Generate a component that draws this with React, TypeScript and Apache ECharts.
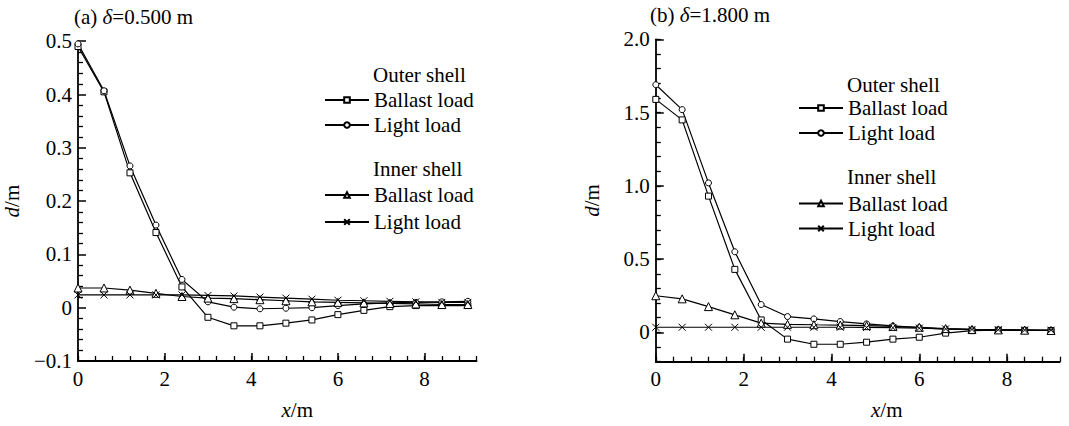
import React, { useEffect, useRef } from "react";
import * as echarts from "echarts";

const xs = [0, 0.6, 1.2, 1.8, 2.4, 3.0, 3.6, 4.2, 4.8, 5.4, 6.0, 6.6, 7.2, 7.8, 8.4, 9.0];

// (a) delta = 0.500 m
const aOuterBallast = [0.49, 0.405, 0.253, 0.141, 0.039, -0.018, -0.034, -0.034, -0.029, -0.023, -0.013, -0.005, 0.002, 0.004, 0.004, 0.004];
const aOuterLight = [0.495, 0.407, 0.266, 0.155, 0.053, 0.011, 0.001, -0.002, -0.001, 0.0, 0.004, 0.007, 0.009, 0.01, 0.011, 0.012];
const aInnerBallast = [0.037, 0.037, 0.033, 0.027, 0.021, 0.018, 0.017, 0.015, 0.013, 0.011, 0.01, 0.009, 0.008, 0.007, 0.006, 0.006];
const aInnerLight = [0.024, 0.024, 0.024, 0.024, 0.024, 0.023, 0.022, 0.02, 0.018, 0.016, 0.014, 0.013, 0.012, 0.011, 0.01, 0.01];

// (b) delta = 1.800 m
const bOuterBallast = [1.59, 1.45, 0.93, 0.43, 0.085, -0.046, -0.081, -0.081, -0.067, -0.046, -0.033, -0.005, 0.012, 0.015, 0.014, 0.013];
const bOuterLight = [1.69, 1.52, 1.02, 0.55, 0.19, 0.108, 0.092, 0.074, 0.058, 0.044, 0.033, 0.022, 0.018, 0.016, 0.015, 0.014];
const bInnerBallast = [0.25, 0.229, 0.176, 0.12, 0.063, 0.055, 0.052, 0.05, 0.046, 0.041, 0.035, 0.026, 0.02, 0.017, 0.015, 0.013];
const bInnerLight = [0.035, 0.035, 0.035, 0.035, 0.035, 0.035, 0.035, 0.035, 0.034, 0.032, 0.029, 0.024, 0.02, 0.018, 0.016, 0.015];

const xMajorTicks = [0, 2, 4, 6, 8];
const bYMajorTicks = [0, 0.5, 1, 1.5, 2];

const FONT = "Liberation Serif, Times New Roman, serif";
const BLACK = "#000";
const FS = 21;

const SYM_X = "path://M0,0L10,10M10,0L0,10";

function pairs(ys: number[]) {
  return xs.map((x, i) => [x, ys[i]]);
}

function makeSeries(name: string, ys: number[], symbol: string, size: number, xi: number, yi: number) {
  return {
    type: "line",
    name,
    data: pairs(ys),
    xAxisIndex: xi,
    yAxisIndex: yi,
    symbol,
    symbolSize: size,
    showSymbol: true,
    lineStyle: { color: BLACK, width: 1.2 },
    itemStyle: { color: "#fff", borderColor: BLACK, borderWidth: 1 },
    emphasis: { disabled: true },
    z: 3,
  };
}

const labelMap: Record<string, string> = {
  aOB: "Ballast load",
  aOL: "Light load",
  aIB: "Ballast load",
  aIL: "Light load",
  bOB: "Ballast load",
  bOL: "Light load",
  bIB: "Ballast load",
  bIL: "Light load",
};

function legendAt(names: string[], left: number, top: number, gap: number) {
  return {
    data: names,
    left,
    top,
    orient: "vertical",
    itemWidth: 44,
    itemHeight: 7,
    itemGap: gap,
    padding: 0,
    selectedMode: false,
    formatter: (n: string) => labelMap[n],
    textStyle: { fontFamily: FONT, fontSize: FS, color: BLACK },
  };
}

const richStyles = {
  i: { fontFamily: FONT, fontSize: FS, fontStyle: "italic", color: BLACK },
  n: { fontFamily: FONT, fontSize: FS, color: BLACK },
};

function textTitle(text: string, left: number, top: number) {
  return {
    text,
    left,
    top,
    padding: 0,
    textStyle: {
      fontFamily: FONT,
      fontSize: FS,
      fontWeight: "normal",
      color: BLACK,
      rich: richStyles,
    },
  };
}

const axisLineStyle = { color: BLACK, width: 1.8 };
const labelStyle = { fontFamily: FONT, fontSize: FS, color: BLACK };

function mainX(gridIndex: number, padL: number) {
  return {
    type: "value",
    gridIndex,
    min: 0,
    max: 9.2,
    interval: 2,
    position: "bottom",
    axisLine: { show: true, onZero: false, lineStyle: axisLineStyle },
    axisTick: { show: true, inside: true, length: 8, customValues: xMajorTicks, lineStyle: { color: BLACK, width: 1.5 } },
    axisLabel: { show: true, customValues: xMajorTicks, margin: 7, ...labelStyle, formatter: (v: number) => String(v) },
    splitLine: { show: false },
    name: "{i|x}{n|/m}",
    nameLocation: "middle",
    nameGap: 38,
    nameTextStyle: {
      ...labelStyle,
      padding: [0, 0, 0, padL],
      rich: richStyles,
    },
  };
}

function minorX(gridIndex: number) {
  return {
    type: "value",
    gridIndex,
    min: 0,
    max: 9.2,
    interval: 0.4,
    position: "bottom",
    offset: 0,
    axisLine: { show: false, onZero: false },
    axisTick: { show: true, inside: true, length: 5, lineStyle: { color: BLACK, width: 1.3 } },
    axisLabel: { show: false },
    splitLine: { show: false },
  };
}

const yName = {
  name: "{i|d}{n|/m}",
  nameLocation: "middle",
  nameRotate: 90,
  nameTextStyle: {
    ...labelStyle,
    rich: richStyles,
  },
};

export default function App() {
  const ref = useRef<HTMLDivElement>(null);

  useEffect(() => {
    if (!ref.current) return;
    const chart = echarts.init(ref.current, undefined, { renderer: "svg" });

    const option: any = {
      animation: false,
      backgroundColor: "#fff",
      textStyle: { fontFamily: FONT },
      title: [
        textTitle("{n|(a) }{i|δ}{n|=0.500 m}", 74, 6),
        textTitle("{n|(b) }{i|δ}{n|=1.800 m}", 650, 4),
        textTitle("Outer shell", 373, 64),
        textTitle("Inner shell", 373, 158),
        textTitle("Outer shell", 847, 74),
        textTitle("Inner shell", 847, 166),
      ],
      legend: [
        legendAt(["aOB", "aOL"], 324, 89.5, 4),
        legendAt(["aIB", "aIL"], 324, 184.5, 6),
        legendAt(["bOB", "bOL"], 798, 97.5, 4),
        legendAt(["bIB", "bIL"], 798, 193, 4),
      ],
      grid: [
        { left: 78, top: 41.2, width: 398.5, height: 319.8 },
        { left: 655.8, top: 39.3, width: 404, height: 322.4 },
      ],
      xAxis: [mainX(0, 40), minorX(0), mainX(1, 58), minorX(1)],
      yAxis: [
        {
          type: "value",
          gridIndex: 0,
          min: -0.1,
          max: 0.5,
          interval: 0.1,
          position: "left",
          axisLine: { show: true, onZero: false, lineStyle: axisLineStyle },
          axisTick: { show: true, inside: true, length: 8, lineStyle: { color: BLACK, width: 1.5 } },
          minorTick: { show: true, splitNumber: 5, length: 5, lineStyle: { color: BLACK, width: 1.3 } },
          axisLabel: {
            margin: 6,
            ...labelStyle,
            formatter: (v: number) => {
              if (Math.abs(v) < 1e-9) return "0";
              return v < 0 ? "\u2212" + Math.abs(v).toFixed(1) : v.toFixed(1);
            },
          },
          splitLine: { show: false },
          minorSplitLine: { show: false },
          ...yName,
          nameGap: 56,
        },
        {
          type: "value",
          gridIndex: 1,
          min: -0.2,
          max: 2,
          interval: 0.5,
          position: "left",
          axisLine: { show: true, onZero: false, lineStyle: axisLineStyle },
          axisTick: { show: true, inside: true, length: 8, customValues: bYMajorTicks, lineStyle: { color: BLACK, width: 1.5 } },
          axisLabel: {
            margin: 6,
            customValues: bYMajorTicks,
            ...labelStyle,
            formatter: (v: number) => (Math.abs(v) < 1e-9 ? "0" : v.toFixed(1)),
          },
          splitLine: { show: false },
          ...yName,
          nameGap: 53,
        },
        {
          type: "value",
          gridIndex: 1,
          min: -0.2,
          max: 2,
          interval: 0.1,
          position: "left",
          offset: 0,
          axisLine: { show: false, onZero: false },
          axisTick: { show: true, inside: true, length: 5, lineStyle: { color: BLACK, width: 1.3 } },
          axisLabel: { show: false },
          splitLine: { show: false },
        },
      ],
      series: [
        makeSeries("aOB", aOuterBallast, "rect", 6, 0, 0),
        makeSeries("aOL", aOuterLight, "circle", 6, 0, 0),
        makeSeries("aIB", aInnerBallast, "triangle", 8, 0, 0),
        makeSeries("aIL", aInnerLight, SYM_X, 7, 0, 0),
        makeSeries("bOB", bOuterBallast, "rect", 6, 2, 1),
        makeSeries("bOL", bOuterLight, "circle", 6, 2, 1),
        makeSeries("bIB", bInnerBallast, "triangle", 8, 2, 1),
        makeSeries("bIL", bInnerLight, SYM_X, 7, 2, 1),
      ],
    };

    chart.setOption(option);
    return () => {
      chart.dispose();
    };
  }, []);

  return (
    <div
      ref={ref}
      style={{ position: "absolute", left: 0, top: 0, width: 1069, height: 426, background: "#fff" }}
    />
  );
}
